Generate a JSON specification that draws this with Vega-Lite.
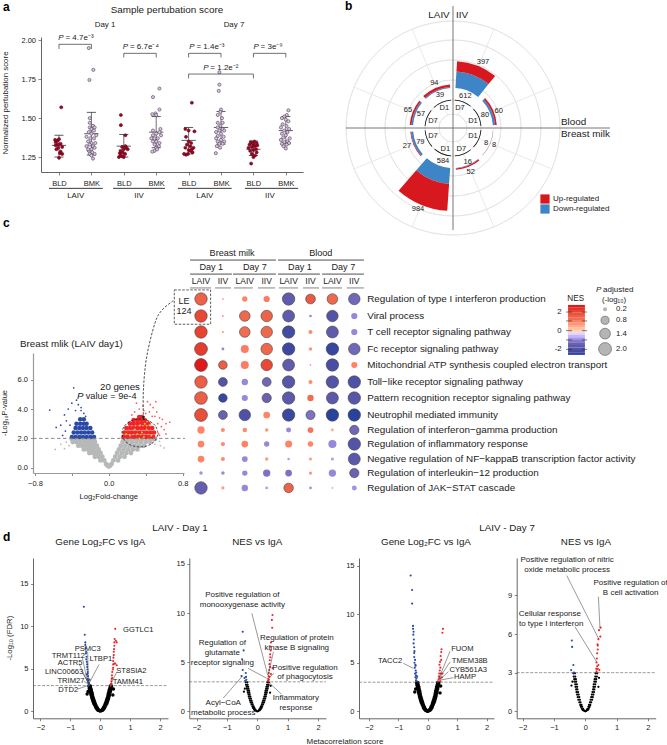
{"$schema":"https://vega.github.io/schema/vega-lite/v6.json","width":667,"height":745,"padding":0,"autosize":"none","background":"white",
"config":{"view":{"stroke":null},"text":{"font":"Liberation Sans","fontSize":7.5,"color":"#222","baseline":"middle"},"axis":{"grid":false,"title":null,"domainColor":"#555","tickColor":"#555","domainWidth":0.9,"tickWidth":0.7,"tickSize":2.5,"labelFont":"Liberation Sans","labelFontSize":7.5,"labelColor":"#222","labelPadding":2.5,"labelOverlap":false,"labelFlush":false}},
"datasets":{
"u":[{"x":0,"y":0},{"x":-0.03,"y":0.03},{"x":-0.05,"y":0.1},{"x":-0.08,"y":0.1},{"x":-0.07,"y":0.2},{"x":-0.11,"y":0.2},{"x":-0.1,"y":0.35},{"x":-0.14,"y":0.35},{"x":-0.12,"y":0.5},{"x":-0.16,"y":0.5},{"x":-0.15,"y":0.7},{"x":-0.19,"y":0.7},{"x":-0.17,"y":0.9},{"x":-0.22,"y":0.9},{"x":-0.19,"y":1.1},{"x":-0.24,"y":1.1},{"x":-0.21,"y":1.3},{"x":-0.26,"y":1.3},{"x":-0.23,"y":1.5},{"x":-0.28,"y":1.5},{"x":-0.25,"y":1.7},{"x":-0.29,"y":1.7},{"x":-0.26,"y":1.9},{"x":-0.31,"y":1.9},{"x":-0.27,"y":2.1},{"x":-0.32,"y":2.1},{"x":-0.29,"y":2.3},{"x":-0.34,"y":2.3},{"x":-0.3,"y":2.5},{"x":-0.35,"y":2.5},{"x":-0.32,"y":2.7},{"x":-0.37,"y":2.7},{"x":-0.33,"y":2.95},{"x":-0.38,"y":2.95},{"x":0.03,"y":0.03},{"x":0.05,"y":0.1},{"x":0.08,"y":0.1},{"x":0.07,"y":0.2},{"x":0.11,"y":0.2},{"x":0.1,"y":0.35},{"x":0.14,"y":0.35},{"x":0.12,"y":0.5},{"x":0.16,"y":0.5},{"x":0.15,"y":0.7},{"x":0.19,"y":0.7},{"x":0.17,"y":0.9},{"x":0.22,"y":0.9},{"x":0.19,"y":1.1},{"x":0.24,"y":1.1},{"x":0.21,"y":1.3},{"x":0.26,"y":1.3},{"x":0.23,"y":1.5},{"x":0.28,"y":1.5},{"x":0.25,"y":1.7},{"x":0.29,"y":1.7},{"x":0.26,"y":1.9},{"x":0.31,"y":1.9},{"x":0.27,"y":2.1},{"x":0.32,"y":2.1},{"x":0.29,"y":2.3},{"x":0.34,"y":2.3},{"x":0.3,"y":2.5},{"x":0.35,"y":2.5},{"x":0.32,"y":2.7},{"x":0.37,"y":2.7},{"x":0.33,"y":2.95},{"x":0.38,"y":2.95},{"x":0.42,"y":1.9},{"x":-0.41,"y":2.3},{"x":0.44,"y":2.6},{"x":-0.44,"y":2}]
},
"layer":[
{"encoding":{"x":{"field":"x","type":"quantitative","scale":{"type":"linear","domain":[0.445,8.53],"range":[41,303]},"axis":{"orient":"bottom","offset":-573,"values":[1,2,3,4,5,6,7,8],"labelExpr":"datum.value%2==1?'BLD':'BMK'","labelFontSize":7.5,"labelPadding":4,"tickSize":3}},"y":{"field":"y","type":"quantitative","scale":{"type":"linear","domain":[1.154,2.021],"range":[172,37]},"axis":{"orient":"left","offset":-41,"values":[1.25,1.5,1.75,2],"format":".2f","tickSize":3}}},
"layer":[
{"data":{"values":[{"x":1,"y":1.25,"y2":1.39},{"x":2,"y":1.263,"y2":1.537},{"x":3,"y":1.25,"y2":1.395},{"x":4,"y":1.31,"y2":1.51},{"x":5,"y":1.27,"y2":1.44},{"x":6,"y":1.333,"y2":1.543},{"x":7,"y":1.26,"y2":1.353},{"x":8,"y":1.338,"y2":1.51}]},"mark":{"type":"rule","color":"#333","strokeWidth":0.7},"encoding":{"y2":{"field":"y2"}}},
{"data":{"values":[{"x":0.78,"x2":1.22,"y":1.325},{"x":0.86,"x2":1.14,"y":1.39},{"x":0.86,"x2":1.14,"y":1.25},{"x":1.78,"x2":2.22,"y":1.4},{"x":1.86,"x2":2.14,"y":1.537},{"x":1.86,"x2":2.14,"y":1.263},{"x":2.78,"x2":3.22,"y":1.32},{"x":2.86,"x2":3.14,"y":1.395},{"x":2.86,"x2":3.14,"y":1.25},{"x":3.78,"x2":4.22,"y":1.41},{"x":3.86,"x2":4.14,"y":1.51},{"x":3.86,"x2":4.14,"y":1.31},{"x":4.78,"x2":5.22,"y":1.357},{"x":4.86,"x2":5.14,"y":1.44},{"x":4.86,"x2":5.14,"y":1.27},{"x":5.78,"x2":6.22,"y":1.44},{"x":5.86,"x2":6.14,"y":1.543},{"x":5.86,"x2":6.14,"y":1.333},{"x":6.78,"x2":7.22,"y":1.3},{"x":6.86,"x2":7.14,"y":1.353},{"x":6.86,"x2":7.14,"y":1.26},{"x":7.78,"x2":8.22,"y":1.42},{"x":7.86,"x2":8.14,"y":1.51},{"x":7.86,"x2":8.14,"y":1.338}]},"mark":{"type":"rule","color":"#333","strokeWidth":0.8},"encoding":{"x2":{"field":"x2"}}},
{"data":{"values":[{"x":1,"y":1.245},{"x":1.03,"y":1.275},{"x":1.1,"y":1.27},{"x":1.05,"y":1.285},{"x":0.92,"y":1.3},{"x":0.98,"y":1.31},{"x":1.1,"y":1.315},{"x":0.9,"y":1.325},{"x":0.97,"y":1.33},{"x":1.05,"y":1.335},{"x":0.9,"y":1.345},{"x":0.95,"y":1.355},{"x":1,"y":1.365},{"x":1.07,"y":1.57},{"x":0.88,"y":1.36},{"x":2.91,"y":1.52},{"x":2.91,"y":1.455},{"x":3.05,"y":1.39},{"x":2.85,"y":1.25},{"x":2.9,"y":1.26},{"x":2.95,"y":1.255},{"x":3,"y":1.25},{"x":2.88,"y":1.275},{"x":2.96,"y":1.28},{"x":3.04,"y":1.27},{"x":3.12,"y":1.3},{"x":2.9,"y":1.29},{"x":3,"y":1.3},{"x":3.08,"y":1.31},{"x":2.95,"y":1.315},{"x":3.05,"y":1.32},{"x":5.1,"y":1.599},{"x":5,"y":1.42},{"x":4.9,"y":1.43},{"x":5.18,"y":1.415},{"x":4.92,"y":1.38},{"x":5,"y":1.35},{"x":5.08,"y":1.34},{"x":4.95,"y":1.33},{"x":5.05,"y":1.32},{"x":4.9,"y":1.31},{"x":5.1,"y":1.3},{"x":5,"y":1.295},{"x":5.12,"y":1.28},{"x":4.98,"y":1.27},{"x":4.92,"y":1.265},{"x":5.05,"y":1.29},{"x":5.15,"y":1.31},{"x":4.86,"y":1.27},{"x":6.93,"y":1.208},{"x":7,"y":1.25},{"x":7.05,"y":1.26},{"x":6.95,"y":1.27},{"x":7.1,"y":1.28},{"x":6.9,"y":1.29},{"x":7,"y":1.295},{"x":7.08,"y":1.3},{"x":6.85,"y":1.31},{"x":6.95,"y":1.315},{"x":7.05,"y":1.32},{"x":7.12,"y":1.325},{"x":6.88,"y":1.33},{"x":7,"y":1.33},{"x":7.1,"y":1.34},{"x":6.92,"y":1.345},{"x":7.03,"y":1.35},{"x":6.98,"y":1.34}]},"mark":{"type":"point","filled":true,"fill":"#a8001e","stroke":"#4a1020","strokeWidth":0.5,"size":10,"opacity":1}},
{"data":{"values":[{"x":1.92,"y":1.95},{"x":2.06,"y":1.81},{"x":1.94,"y":1.745},{"x":1.95,"y":1.5},{"x":1.95,"y":1.47},{"x":2.05,"y":1.45},{"x":1.95,"y":1.44},{"x":2.1,"y":1.44},{"x":2,"y":1.43},{"x":2.08,"y":1.42},{"x":1.92,"y":1.41},{"x":2,"y":1.4},{"x":2.15,"y":1.39},{"x":1.85,"y":1.38},{"x":1.97,"y":1.37},{"x":2.08,"y":1.37},{"x":1.9,"y":1.35},{"x":2,"y":1.34},{"x":2.12,"y":1.34},{"x":1.95,"y":1.33},{"x":2.05,"y":1.32},{"x":1.85,"y":1.32},{"x":2,"y":1.3},{"x":1.92,"y":1.29},{"x":2.1,"y":1.31},{"x":2.03,"y":1.28},{"x":1.95,"y":1.27},{"x":2.1,"y":1.27},{"x":2,"y":1.26},{"x":2.05,"y":1.24},{"x":1.9,"y":1.3},{"x":4.1,"y":1.69},{"x":3.9,"y":1.635},{"x":4.1,"y":1.555},{"x":3.98,"y":1.53},{"x":3.88,"y":1.525},{"x":4,"y":1.52},{"x":3.9,"y":1.42},{"x":4.13,"y":1.43},{"x":4.1,"y":1.41},{"x":4,"y":1.4},{"x":3.9,"y":1.39},{"x":3.85,"y":1.37},{"x":3.95,"y":1.37},{"x":4.05,"y":1.37},{"x":4.15,"y":1.39},{"x":3.9,"y":1.35},{"x":4,"y":1.35},{"x":4.1,"y":1.34},{"x":3.95,"y":1.33},{"x":4.08,"y":1.32},{"x":4,"y":1.31},{"x":3.95,"y":1.29},{"x":3.88,"y":1.285},{"x":4.03,"y":1.3},{"x":5.95,"y":1.795},{"x":5.95,"y":1.715},{"x":5.93,"y":1.675},{"x":6,"y":1.555},{"x":5.98,"y":1.54},{"x":5.9,"y":1.52},{"x":6.03,"y":1.5},{"x":5.9,"y":1.47},{"x":6.05,"y":1.47},{"x":5.98,"y":1.45},{"x":5.9,"y":1.44},{"x":6.05,"y":1.43},{"x":5.95,"y":1.42},{"x":6.1,"y":1.42},{"x":5.85,"y":1.41},{"x":6,"y":1.4},{"x":5.9,"y":1.385},{"x":6.08,"y":1.38},{"x":5.85,"y":1.37},{"x":6,"y":1.36},{"x":6.1,"y":1.35},{"x":5.9,"y":1.35},{"x":5.95,"y":1.335},{"x":6.05,"y":1.335},{"x":5.87,"y":1.32},{"x":5.97,"y":1.31},{"x":5.84,"y":1.275},{"x":8.08,"y":1.55},{"x":8.03,"y":1.52},{"x":7.95,"y":1.51},{"x":7.88,"y":1.5},{"x":8,"y":1.49},{"x":8.08,"y":1.48},{"x":7.9,"y":1.46},{"x":8.02,"y":1.45},{"x":7.85,"y":1.44},{"x":8.1,"y":1.43},{"x":7.95,"y":1.42},{"x":8.05,"y":1.41},{"x":7.88,"y":1.4},{"x":8,"y":1.39},{"x":7.92,"y":1.375},{"x":8.12,"y":1.37},{"x":7.85,"y":1.36},{"x":8.05,"y":1.35},{"x":7.95,"y":1.345},{"x":7.88,"y":1.335},{"x":8.03,"y":1.33},{"x":8.1,"y":1.34},{"x":7.93,"y":1.32},{"x":8,"y":1.305}]},"mark":{"type":"point","filled":true,"fill":"#d9c7df","stroke":"#4d3a58","strokeWidth":0.6,"size":10,"opacity":1}},
{"data":{"values":[{"b":1,"i":1,"x":1,"y":1.944},{"b":1,"i":2,"x":1,"y":1.974},{"b":1,"i":3,"x":2,"y":1.974},{"b":1,"i":4,"x":2,"y":1.944},{"b":2,"i":1,"x":3,"y":1.89},{"b":2,"i":2,"x":3,"y":1.916},{"b":2,"i":3,"x":4,"y":1.916},{"b":2,"i":4,"x":4,"y":1.89},{"b":3,"i":1,"x":5,"y":1.89},{"b":3,"i":2,"x":5,"y":1.916},{"b":3,"i":3,"x":6,"y":1.916},{"b":3,"i":4,"x":6,"y":1.89},{"b":4,"i":1,"x":7,"y":1.89},{"b":4,"i":2,"x":7,"y":1.916},{"b":4,"i":3,"x":8,"y":1.916},{"b":4,"i":4,"x":8,"y":1.89},{"b":5,"i":1,"x":5,"y":1.755},{"b":5,"i":2,"x":5,"y":1.783},{"b":5,"i":3,"x":7,"y":1.783},{"b":5,"i":4,"x":7,"y":1.755}]},"mark":{"type":"line","color":"#333","strokeWidth":0.7},"encoding":{"detail":{"field":"b"},"order":{"field":"i"}}},
{"data":{"values":[{"x":0.69,"x2":2.35,"y":1.049},{"x":2.67,"x2":4.27,"y":1.049},{"x":4.67,"x2":6.33,"y":1.049},{"x":6.74,"x2":8.38,"y":1.049}]},"mark":{"type":"rule","color":"#222","strokeWidth":0.9},"encoding":{"x2":{"field":"x2"}}},
{"data":{"values":[{"x":1.515,"y":1,"t":"LAIV"},{"x":3.47,"y":1,"t":"IIV"},{"x":5.5,"y":1,"t":"LAIV"},{"x":7.51,"y":1,"t":"IIV"},{"x":2.42,"y":2.098,"t":"Day 1"},{"x":6.4,"y":2.098,"t":"Day 7"}]},"mark":{"type":"text","align":"center","fontSize":7.9},"encoding":{"text":{"field":"t","type":"nominal"}}},
{"data":{"values":[{"x":4.33,"y":2.194,"t":"Sample pertubation score"}]},"mark":{"type":"text","align":"center","fontSize":9.9},"encoding":{"text":{"field":"t","type":"nominal"}}},
{"data":{"values":[{"x":-0.636,"y":1.597,"t":"Normalized pertubation score"}]},"mark":{"type":"text","align":"center","angle":270,"fontSize":7.9},"encoding":{"text":{"field":"t","type":"nominal"}}},
{"data":{"values":[{"x":-0.73,"y":2.213,"t":"a"}]},"mark":{"type":"text","align":"left","fontSize":12,"fontWeight":"bold","color":"#000"},"encoding":{"text":{"field":"t","type":"nominal"}}},
{"data":{"values":[{"x":0.98,"y":2.012,"t":"P"},{"x":2.97,"y":1.959,"t":"P"},{"x":5.02,"y":1.959,"t":"P"},{"x":7,"y":1.959,"t":"P"},{"x":5.45,"y":1.824,"t":"P"}]},"mark":{"type":"text","align":"left","fontStyle":"italic","fontSize":8},"encoding":{"text":{"field":"t","type":"nominal"}}},
{"data":{"values":[{"x":1.2,"y":2.012,"t":"= 4.7e⁻³"},{"x":3.19,"y":1.959,"t":"= 6.7e⁻⁴"},{"x":5.24,"y":1.959,"t":"= 1.4e⁻³"},{"x":7.22,"y":1.959,"t":"= 3e⁻⁹"},{"x":5.67,"y":1.824,"t":"= 1.2e⁻²"}]},"mark":{"type":"text","align":"left","fontSize":8},"encoding":{"text":{"field":"t","type":"nominal"}}}
]},

{"encoding":{"x":{"field":"x","type":"quantitative","scale":{"type":"linear","domain":[-107,107],"range":[346,560]},"axis":null},"y":{"field":"y","type":"quantitative","scale":{"type":"linear","domain":[-107,107],"range":[235,21]},"axis":null}},
"layer":[
{"data":{"values":[{"x":0,"y":0,"t1":0,"t2":360,"r1":14,"r2":14},{"x":0,"y":0,"t1":0,"t2":360,"r1":28,"r2":28},{"x":0,"y":0,"t1":0,"t2":360,"r1":48,"r2":48},{"x":0,"y":0,"t1":0,"t2":360,"r1":68,"r2":68},{"x":0,"y":0,"t1":0,"t2":360,"r1":88,"r2":88},{"x":0,"y":0,"t1":0,"t2":360,"r1":107,"r2":107}]},"mark":{"type":"arc","fill":null,"stroke":"#e3e3e3","strokeWidth":0.8},"encoding":{"theta":{"field":"t1","type":"quantitative","stack":null,"scale":{"type":"linear","domain":[0,360],"range":[0,6.28319]}},"theta2":{"field":"t2"},"radius":{"field":"r1","type":"quantitative","scale":{"type":"linear","domain":[0,107],"range":[0,107]}},"radius2":{"field":"r2"}}},
{"data":{"values":[{"x":5.4,"y":12.9,"x2":40.9,"y2":98.9},{"x":12.9,"y":5.4,"x2":98.9,"y2":40.9},{"x":12.9,"y":-5.4,"x2":98.9,"y2":-40.9},{"x":5.4,"y":-12.9,"x2":40.9,"y2":-98.9},{"x":-5.4,"y":-12.9,"x2":-40.9,"y2":-98.9},{"x":-12.9,"y":-5.4,"x2":-98.9,"y2":-40.9},{"x":-12.9,"y":5.4,"x2":-98.9,"y2":40.9},{"x":-5.4,"y":12.9,"x2":-40.9,"y2":98.9}]},"mark":{"type":"rule","color":"#e3e3e3","strokeWidth":0.8},"encoding":{"x2":{"field":"x2"},"y2":{"field":"y2"}}},
{"data":{"values":[{"x":0,"y":0,"t1":3.5,"t2":39,"r1":40,"r2":56.5,"reg":"Down-regulated"},{"x":0,"y":0,"t1":3.5,"t2":39,"r1":56.5,"r2":67,"reg":"Up-regulated"},{"x":0,"y":0,"t1":47,"t2":86,"r1":40,"r2":42.2,"reg":"Down-regulated"},{"x":0,"y":0,"t1":47,"t2":86,"r1":42.2,"r2":43.9,"reg":"Up-regulated"},{"x":0,"y":0,"t1":94,"t2":133,"r1":40,"r2":40.2,"reg":"Down-regulated"},{"x":0,"y":0,"t1":94,"t2":133,"r1":40.2,"r2":40.4,"reg":"Up-regulated"},{"x":0,"y":0,"t1":141,"t2":176,"r1":40,"r2":40.5,"reg":"Down-regulated"},{"x":0,"y":0,"t1":141,"t2":176,"r1":40.5,"r2":41.9,"reg":"Up-regulated"},{"x":0,"y":0,"t1":184,"t2":221,"r1":40,"r2":56,"reg":"Down-regulated"},{"x":0,"y":0,"t1":184,"t2":221,"r1":56,"r2":83,"reg":"Up-regulated"},{"x":0,"y":0,"t1":229,"t2":265,"r1":40,"r2":42.2,"reg":"Down-regulated"},{"x":0,"y":0,"t1":229,"t2":265,"r1":42.2,"r2":42.9,"reg":"Up-regulated"},{"x":0,"y":0,"t1":274,"t2":309,"r1":40,"r2":41.6,"reg":"Down-regulated"},{"x":0,"y":0,"t1":274,"t2":309,"r1":41.6,"r2":43.4,"reg":"Up-regulated"},{"x":0,"y":0,"t1":317,"t2":356,"r1":40,"r2":41.1,"reg":"Down-regulated"},{"x":0,"y":0,"t1":317,"t2":356,"r1":41.1,"r2":43.7,"reg":"Up-regulated"}]},"mark":{"type":"arc"},"encoding":{"theta":{"field":"t1","type":"quantitative","stack":null},"theta2":{"field":"t2"},"radius":{"field":"r1","type":"quantitative"},"radius2":{"field":"r2"},"color":{"field":"reg","type":"nominal","scale":{"domain":["Up-regulated","Down-regulated"],"range":["#d7191f","#3d85c6"]},"legend":{"orient":"none","legendX":540,"legendY":194,"title":null,"symbolType":"square","symbolSize":85,"labelFont":"Liberation Sans","labelFontSize":8,"labelColor":"#222","rowPadding":0,"labelOffset":3,"symbolStrokeWidth":0}}}},
{"data":{"values":[{"x":0,"y":0,"t1":3.5,"t2":39,"r1":27.6,"r2":28.4},{"x":0,"y":0,"t1":47,"t2":86,"r1":27.6,"r2":28.4},{"x":0,"y":0,"t1":94,"t2":133,"r1":27.6,"r2":28.4},{"x":0,"y":0,"t1":141,"t2":176,"r1":27.6,"r2":28.4},{"x":0,"y":0,"t1":184,"t2":221,"r1":27.6,"r2":28.4},{"x":0,"y":0,"t1":229,"t2":265,"r1":27.6,"r2":28.4},{"x":0,"y":0,"t1":274,"t2":309,"r1":27.6,"r2":28.4},{"x":0,"y":0,"t1":317,"t2":356,"r1":27.6,"r2":28.4}]},"mark":{"type":"arc","color":"#111"},"encoding":{"theta":{"field":"t1","type":"quantitative","stack":null},"theta2":{"field":"t2"},"radius":{"field":"r1","type":"quantitative"},"radius2":{"field":"r2"}}},
{"data":{"values":[{"x":-107,"y":0,"x2":157,"y2":0},{"x":0,"y":122,"x2":0,"y2":-102}]},"mark":{"type":"rule","color":"#777","strokeWidth":1},"encoding":{"x2":{"field":"x2"},"y2":{"field":"y2"}}},
{"data":{"values":[{"x":30,"y":66,"t":"397"},{"x":12.3,"y":32,"t":"612"},{"x":32,"y":13,"t":"80"},{"x":45.7,"y":17,"t":"60"},{"x":33,"y":-15,"t":"8"},{"x":41,"y":-17,"t":"8"},{"x":14.7,"y":-33.7,"t":"16"},{"x":17.7,"y":-44,"t":"52"},{"x":-10,"y":-33,"t":"584"},{"x":-35,"y":-81,"t":"984"},{"x":-32.7,"y":-13.7,"t":"79"},{"x":-46,"y":-18,"t":"27"},{"x":-32,"y":14,"t":"57"},{"x":-45,"y":18,"t":"65"},{"x":-13,"y":32.7,"t":"39"},{"x":-18.7,"y":44.7,"t":"94"},{"x":7,"y":19.7,"t":"D7"},{"x":20,"y":7.3,"t":"D1"},{"x":20,"y":-8,"t":"D1"},{"x":8.3,"y":-21,"t":"D7"},{"x":-7.7,"y":-21,"t":"D1"},{"x":-20,"y":-8,"t":"D7"},{"x":-20,"y":7.3,"t":"D7"},{"x":-8.7,"y":19.7,"t":"D1"}]},"mark":{"type":"text","align":"center","fontSize":7.5},"encoding":{"text":{"field":"t","type":"nominal"}}},
{"data":{"values":[{"x":-14,"y":113,"t":"LAIV"},{"x":9,"y":113,"t":"IIV"}]},"mark":{"type":"text","align":"center","fontSize":9.9},"encoding":{"text":{"field":"t","type":"nominal"}}},
{"data":{"values":[{"x":108,"y":6,"t":"Blood"},{"x":108,"y":-6,"t":"Breast milk"}]},"mark":{"type":"text","align":"left","fontSize":9.9},"encoding":{"text":{"field":"t","type":"nominal"}}},
{"data":{"values":[{"x":-108,"y":122,"t":"b"}]},"mark":{"type":"text","align":"left","fontSize":12,"fontWeight":"bold","color":"#000"},"encoding":{"text":{"field":"t","type":"nominal"}}}
]},

{"encoding":{"x":{"field":"x","type":"quantitative","scale":{"type":"linear","domain":[-0.821,0.815],"range":[33,184]},"axis":{"orient":"bottom","offset":-272,"values":[-0.8,-0.4,0,0.4,0.8],"labelExpr":"abs(datum.value)==0.4?'':format(datum.value,'.1f')","domainColor":"#999","domainWidth":1.2,"tickColor":"#555","labelPadding":4}},"y":{"field":"y","type":"quantitative","scale":{"type":"linear","domain":[-0.36,7.82],"range":[473,353]},"axis":{"orient":"left","offset":-33,"values":[0,2,4,6],"format":".1f","domainColor":"#999","domainWidth":1.2,"tickColor":"#555","labelPadding":3}}},
"layer":[
{"data":{"values":[{"x":0,"y":0.08},{"x":0.015,"y":0.15},{"x":-0.015,"y":0.15},{"x":0.03,"y":0.25},{"x":-0.03,"y":0.25},{"x":-0.05,"y":0.5},{"x":-0.09,"y":0.5},{"x":-0.07,"y":0.75},{"x":-0.11,"y":0.75},{"x":-0.15,"y":0.75},{"x":-0.09,"y":1},{"x":-0.13,"y":1},{"x":-0.17,"y":1},{"x":-0.21,"y":1},{"x":-0.11,"y":1.25},{"x":-0.15,"y":1.25},{"x":-0.19,"y":1.25},{"x":-0.23,"y":1.25},{"x":-0.27,"y":1.25},{"x":-0.13,"y":1.5},{"x":-0.17,"y":1.5},{"x":-0.21,"y":1.5},{"x":-0.25,"y":1.5},{"x":-0.29,"y":1.5},{"x":-0.33,"y":1.5},{"x":-0.15,"y":1.75},{"x":-0.19,"y":1.75},{"x":-0.23,"y":1.75},{"x":-0.27,"y":1.75},{"x":-0.31,"y":1.75},{"x":-0.35,"y":1.75},{"x":-0.39,"y":1.75},{"x":-0.16,"y":1.95},{"x":-0.2,"y":1.95},{"x":-0.24,"y":1.95},{"x":-0.28,"y":1.95},{"x":-0.32,"y":1.95},{"x":-0.36,"y":1.95},{"x":-0.4,"y":1.95},{"x":0.05,"y":0.5},{"x":0.1,"y":0.5},{"x":0.07,"y":0.75},{"x":0.12,"y":0.75},{"x":0.17,"y":0.75},{"x":0.09,"y":1},{"x":0.14,"y":1},{"x":0.19,"y":1},{"x":0.24,"y":1},{"x":0.11,"y":1.25},{"x":0.16,"y":1.25},{"x":0.21,"y":1.25},{"x":0.26,"y":1.25},{"x":0.31,"y":1.25},{"x":0.13,"y":1.5},{"x":0.18,"y":1.5},{"x":0.23,"y":1.5},{"x":0.28,"y":1.5},{"x":0.33,"y":1.5},{"x":0.38,"y":1.5},{"x":0.15,"y":1.75},{"x":0.2,"y":1.75},{"x":0.25,"y":1.75},{"x":0.3,"y":1.75},{"x":0.35,"y":1.75},{"x":0.4,"y":1.75},{"x":0.45,"y":1.75},{"x":0.16,"y":1.95},{"x":0.21,"y":1.95},{"x":0.26,"y":1.95},{"x":0.31,"y":1.95},{"x":0.36,"y":1.95},{"x":0.41,"y":1.95},{"x":0.46,"y":1.95},{"x":0.5,"y":1.95}]},"mark":{"type":"circle","color":"#b7b9b9","size":24,"opacity":1}},
{"data":{"values":[{"x":-0.58,"y":1.25},{"x":-0.52,"y":1.6},{"x":-0.46,"y":1.75},{"x":0.56,"y":1.5},{"x":0.6,"y":1.35},{"x":0.5,"y":1.6},{"x":0.55,"y":1.8},{"x":-0.48,"y":1.3},{"x":-0.43,"y":1.5}]},"mark":{"type":"circle","color":"#b7b9b9","size":3,"opacity":1}},
{"data":{"values":[{"x":-0.16,"y":2.1},{"x":-0.2,"y":2.1},{"x":-0.24,"y":2.1},{"x":-0.28,"y":2.1},{"x":-0.32,"y":2.1},{"x":-0.36,"y":2.1},{"x":-0.4,"y":2.1},{"x":-0.18,"y":2.4},{"x":-0.22,"y":2.4},{"x":-0.26,"y":2.4},{"x":-0.3,"y":2.4},{"x":-0.34,"y":2.4},{"x":-0.38,"y":2.4},{"x":-0.2,"y":2.7},{"x":-0.24,"y":2.7},{"x":-0.28,"y":2.7},{"x":-0.32,"y":2.7},{"x":-0.36,"y":2.7},{"x":-0.24,"y":3},{"x":-0.27,"y":3},{"x":-0.31,"y":3},{"x":-0.35,"y":3},{"x":-0.27,"y":3.3},{"x":-0.31,"y":3.3}]},"mark":{"type":"circle","color":"#2b4aa5","size":20,"opacity":1}},
{"data":{"values":[{"x":-0.64,"y":3.93},{"x":-0.38,"y":5.45},{"x":-0.48,"y":3.6},{"x":-0.44,"y":4},{"x":-0.4,"y":4.4},{"x":-0.35,"y":4.6},{"x":-0.33,"y":4.3},{"x":-0.3,"y":3.9},{"x":-0.27,"y":3.7},{"x":-0.36,"y":3.9},{"x":-0.52,"y":2.9},{"x":-0.57,"y":2.75},{"x":-0.46,"y":3.2},{"x":-0.42,"y":2.9},{"x":-0.5,"y":2.2},{"x":-0.47,"y":2.5},{"x":-0.3,"y":4.1},{"x":-0.25,"y":3.5}]},"mark":{"type":"circle","color":"#2b4aa5","size":3,"opacity":1}},
{"data":{"values":[{"x":0.62,"y":3},{"x":0.55,"y":3.4},{"x":0.6,"y":2.6},{"x":0.66,"y":3.1},{"x":0.52,"y":3.8},{"x":0.48,"y":4.1},{"x":0.45,"y":4.3},{"x":0.42,"y":4.5},{"x":0.37,"y":4.2},{"x":0.33,"y":4},{"x":0.28,"y":3.8},{"x":0.25,"y":3.6},{"x":0.53,"y":3},{"x":0.57,"y":2.8},{"x":0.54,"y":2.3},{"x":0.55,"y":2.2},{"x":0.62,"y":2.3},{"x":0.51,"y":4.5},{"x":0.44,"y":3.8},{"x":0.38,"y":3.9},{"x":0.5,"y":3.5},{"x":0.58,"y":3.3},{"x":0.47,"y":3.5},{"x":0.3,"y":4.4},{"x":0.4,"y":3.7}]},"mark":{"type":"circle","color":"#f0605f","size":3,"opacity":1}},
{"data":{"values":[{"x":0.16,"y":2.1},{"x":0.2,"y":2.1},{"x":0.24,"y":2.1},{"x":0.28,"y":2.1},{"x":0.32,"y":2.1},{"x":0.36,"y":2.1},{"x":0.4,"y":2.1},{"x":0.44,"y":2.1},{"x":0.48,"y":2.1},{"x":0.17,"y":2.4},{"x":0.21,"y":2.4},{"x":0.25,"y":2.4},{"x":0.29,"y":2.4},{"x":0.33,"y":2.4},{"x":0.37,"y":2.4},{"x":0.41,"y":2.4},{"x":0.45,"y":2.4},{"x":0.49,"y":2.4},{"x":0.19,"y":2.7},{"x":0.23,"y":2.7},{"x":0.27,"y":2.7},{"x":0.31,"y":2.7},{"x":0.35,"y":2.7},{"x":0.39,"y":2.7},{"x":0.43,"y":2.7},{"x":0.47,"y":2.7},{"x":0.23,"y":3},{"x":0.27,"y":3},{"x":0.31,"y":3},{"x":0.35,"y":3},{"x":0.39,"y":3},{"x":0.43,"y":3},{"x":0.27,"y":3.25},{"x":0.31,"y":3.25},{"x":0.35,"y":3.25},{"x":0.39,"y":3.25},{"x":0.33,"y":3.45},{"x":0.36,"y":3.45}]},"mark":{"type":"circle","color":"#ef2529","size":22,"opacity":1}},
{"data":{"values":[{"x":0.19,"y":2.3},{"x":0.23,"y":2.2},{"x":0.28,"y":2.6},{"x":0.31,"y":2.3},{"x":0.34,"y":2.9},{"x":0.36,"y":2.4},{"x":0.38,"y":2.1},{"x":0.41,"y":2.6},{"x":0.44,"y":2.9},{"x":0.46,"y":2.2},{"x":0.39,"y":3},{"x":0.33,"y":2}]},"mark":{"type":"circle","color":"#d6cc12","size":4,"opacity":1}},
{"data":{"values":[{"x":-0.821,"x2":0.825,"y":2}]},"mark":{"type":"rule","color":"#888","strokeWidth":1,"strokeDash":[3.5,2.5]},"encoding":{"x2":{"field":"x2"}}},
{"data":{"values":[{"i":1,"x":0.533,"y":2.365},{"i":2,"x":0.507,"y":2.84},{"i":3,"x":0.436,"y":3.19},{"i":4,"x":0.338,"y":3.315},{"i":5,"x":0.24,"y":3.19},{"i":6,"x":0.169,"y":2.84},{"i":7,"x":0.143,"y":2.365},{"i":8,"x":0.169,"y":1.89},{"i":9,"x":0.24,"y":1.54},{"i":10,"x":0.338,"y":1.415},{"i":11,"x":0.436,"y":1.54},{"i":12,"x":0.507,"y":1.89},{"i":13,"x":0.533,"y":2.365}]},"mark":{"type":"line","color":"#222","strokeWidth":0.8,"strokeDash":[2.5,1.5],"interpolate":"cardinal"},"encoding":{"order":{"field":"i"}}},
{"data":{"values":[{"x":-0.962,"y":8.43,"t":"Breast mlik (LAIV day1)"}]},"mark":{"type":"text","align":"left","fontSize":9.8},"encoding":{"text":{"field":"t","type":"nominal"}}},
{"data":{"values":[{"x":0.121,"y":5.5,"t":"20 genes"}]},"mark":{"type":"text","align":"center","fontSize":9.7},"encoding":{"text":{"field":"t","type":"nominal"}}},
{"data":{"values":[{"x":-0.345,"y":4.89,"t":"P"}]},"mark":{"type":"text","align":"left","fontSize":9.7,"fontStyle":"italic"},"encoding":{"text":{"field":"t","type":"nominal"}}},
{"data":{"values":[{"x":-0.25,"y":4.89,"t":"value = 9e-4"}]},"mark":{"type":"text","align":"left","fontSize":9.2},"encoding":{"text":{"field":"t","type":"nominal"}}},
{"data":{"values":[{"x":-1.125,"y":3.73,"t":"-Log₁₀P-value"}]},"mark":{"type":"text","align":"center","angle":270,"fontSize":7.5},"encoding":{"text":{"field":"t","type":"nominal"}}},
{"data":{"values":[{"x":0,"y":-2,"t":"Log₂Fold-change"}]},"mark":{"type":"text","align":"center","fontSize":7.7},"encoding":{"text":{"field":"t","type":"nominal"}}},
{"data":{"values":[{"x":-1.146,"y":16.68,"t":"c"}]},"mark":{"type":"text","align":"left","fontSize":12,"fontWeight":"bold","color":"#000"},"encoding":{"text":{"field":"t","type":"nominal"}}}
]},

{"encoding":{"x":{"field":"x","type":"quantitative","scale":{"type":"linear","domain":[0,9],"range":[179.1,376.2]},"axis":null},"y":{"field":"y","type":"quantitative","scale":{"type":"linear","domain":[-3,13],"range":[233,497]},"axis":null}},
"layer":[
{"data":{"values":[{"x":-0.22,"x2":1.44,"y":0.45,"y2":2.53}]},"mark":{"type":"rect","fill":null,"stroke":"#333","strokeWidth":0.8,"strokeDash":[2.5,1.5]},"encoding":{"x2":{"field":"x2"},"y2":{"field":"y2"}}},
{"data":{"values":[{"i":1,"x":-0.26,"y":1.1},{"i":2,"x":-0.78,"y":1.67},{"i":3,"x":-1.1,"y":2.45},{"i":4,"x":-1.48,"y":4.5},{"i":5,"x":-1.63,"y":6.52},{"i":6,"x":-1.63,"y":8.21}]},"mark":{"type":"line","color":"#222","strokeWidth":0.8,"strokeDash":[2.5,1.5],"interpolate":"cardinal"},"encoding":{"order":{"field":"i"}}},
{"data":{"values":[{"x":-1.63,"y":8.21}]},"mark":{"type":"point","shape":"triangle-down","filled":true,"color":"#222","size":14,"opacity":1}},
{"data":{"values":[
{"x":1,"y":1,"nes":1.5,"p":1.87},{"x":2,"y":1,"nes":0.6,"p":0.04},{"x":3,"y":1,"nes":1,"p":0.34},{"x":4,"y":1,"nes":1.1,"p":0.47},{"x":5,"y":1,"nes":-1.5,"p":1.87},{"x":6,"y":1,"nes":1.7,"p":1.15},{"x":7,"y":1,"nes":1.4,"p":1.37},{"x":8,"y":1,"nes":-1.2,"p":1.61},
{"x":1,"y":2.03,"nes":2,"p":1.87},{"x":2,"y":2.03,"nes":0.8,"p":0.04},{"x":3,"y":2.03,"nes":1.4,"p":1.37},{"x":4,"y":2.03,"nes":1.5,"p":1.61},{"x":5,"y":2.03,"nes":-1.5,"p":1.73},{"x":6,"y":2.03,"nes":-0.9,"p":0.09},{"x":7,"y":2.03,"nes":-1.8,"p":1.61},{"x":8,"y":2.03,"nes":-0.9,"p":0.47},
{"x":1,"y":3,"nes":2.1,"p":1.87},{"x":2,"y":3,"nes":0.7,"p":0.06},{"x":3,"y":3,"nes":1.3,"p":1.37},{"x":4,"y":3,"nes":1.4,"p":1.61},{"x":5,"y":3,"nes":-2.1,"p":1.87},{"x":6,"y":3,"nes":0.9,"p":0.2},{"x":7,"y":3,"nes":-1.5,"p":1.73},{"x":8,"y":3,"nes":-0.9,"p":0.47},
{"x":1,"y":4.03,"nes":2.2,"p":2},{"x":2,"y":4.03,"nes":-0.9,"p":0.1},{"x":3,"y":4.03,"nes":1.1,"p":0.77},{"x":4,"y":4.03,"nes":1.4,"p":1.61},{"x":5,"y":4.03,"nes":-2.2,"p":1.87},{"x":6,"y":4.03,"nes":0.8,"p":0.15},{"x":7,"y":4.03,"nes":-2.3,"p":1.87},{"x":8,"y":4.03,"nes":-1.2,"p":1.61},
{"x":1,"y":5,"nes":2.6,"p":2},{"x":2,"y":5,"nes":1.6,"p":0.9},{"x":3,"y":5,"nes":1.1,"p":0.77},{"x":4,"y":5,"nes":2,"p":1.6},{"x":5,"y":5,"nes":-1.5,"p":1.73},{"x":6,"y":5,"nes":0.6,"p":0.04},{"x":7,"y":5,"nes":-2,"p":1.87},{"x":8,"y":5,"nes":1,"p":0.45},
{"x":1,"y":6.03,"nes":1.6,"p":1.87},{"x":2,"y":6.03,"nes":-1.8,"p":0.95},{"x":3,"y":6.03,"nes":-0.9,"p":0.5},{"x":4,"y":6.03,"nes":-1.2,"p":0.95},{"x":5,"y":6.03,"nes":-1.7,"p":1.87},{"x":6,"y":6.03,"nes":0.9,"p":0.2},{"x":7,"y":6.03,"nes":-1.8,"p":1.87},{"x":8,"y":6.03,"nes":-1.9,"p":1.87},
{"x":1,"y":7,"nes":1.6,"p":1.95},{"x":2,"y":7,"nes":-2.3,"p":0.9},{"x":3,"y":7,"nes":-0.9,"p":0.45},{"x":4,"y":7,"nes":-1.3,"p":1.05},{"x":5,"y":7,"nes":-1.6,"p":1.87},{"x":6,"y":7,"nes":1.3,"p":0.5},{"x":7,"y":7,"nes":-1.6,"p":1.73},{"x":8,"y":7,"nes":-1.7,"p":1.87},
{"x":1,"y":8.03,"nes":1.9,"p":2},{"x":2,"y":8.03,"nes":-1.3,"p":0.95},{"x":3,"y":8.03,"nes":-1.9,"p":1.6},{"x":4,"y":8.03,"nes":1,"p":0.55},{"x":5,"y":8.03,"nes":-2.2,"p":1.87},{"x":6,"y":8.03,"nes":-1.1,"p":1},{"x":7,"y":8.03,"nes":-2.5,"p":1.87},{"x":8,"y":8.03,"nes":-2.5,"p":1.87},
{"x":1,"y":8.94,"nes":1,"p":0.65},{"x":2,"y":8.94,"nes":0.9,"p":0.2},{"x":3,"y":8.94,"nes":0.9,"p":0.25},{"x":4,"y":8.94,"nes":0.8,"p":0.15},{"x":5,"y":8.94,"nes":-0.9,"p":0.3},{"x":6,"y":8.94,"nes":1.2,"p":0.4},{"x":7,"y":8.94,"nes":0.5,"p":0.1},{"x":8,"y":8.94,"nes":-1.2,"p":1.05},
{"x":1,"y":9.79,"nes":1,"p":0.55},{"x":2,"y":9.79,"nes":0.9,"p":0.22},{"x":3,"y":9.79,"nes":1,"p":0.55},{"x":4,"y":9.79,"nes":-0.9,"p":0.35},{"x":5,"y":9.79,"nes":1,"p":0.6},{"x":6,"y":9.79,"nes":1,"p":0.35},{"x":7,"y":9.79,"nes":-0.9,"p":0.8},{"x":8,"y":9.79,"nes":-1.8,"p":1.87},
{"x":1,"y":10.7,"nes":1,"p":0.55},{"x":2,"y":10.7,"nes":0.9,"p":0.2},{"x":3,"y":10.7,"nes":-0.9,"p":0.4},{"x":4,"y":10.7,"nes":0.7,"p":0.15},{"x":5,"y":10.7,"nes":-0.7,"p":0.08},{"x":6,"y":10.7,"nes":0.7,"p":0.12},{"x":7,"y":10.7,"nes":-0.7,"p":0.12},{"x":8,"y":10.7,"nes":-1.6,"p":1.73},
{"x":1,"y":11.55,"nes":-0.8,"p":0.15},{"x":2,"y":11.55,"nes":-0.9,"p":0.15},{"x":3,"y":11.55,"nes":-0.9,"p":0.35},{"x":4,"y":11.55,"nes":-1.1,"p":0.65},{"x":5,"y":11.55,"nes":-1.1,"p":0.55},{"x":6,"y":11.55,"nes":0.8,"p":0.12},{"x":7,"y":11.55,"nes":-0.9,"p":0.65},{"x":8,"y":11.55,"nes":-1.3,"p":1.05},
{"x":1,"y":12.45,"nes":-1.4,"p":1.87},{"x":2,"y":12.45,"nes":0.7,"p":0.12},{"x":3,"y":12.45,"nes":-0.9,"p":0.5},{"x":4,"y":12.45,"nes":-0.7,"p":0.1},{"x":5,"y":12.45,"nes":1.5,"p":1.1},{"x":6,"y":12.45,"nes":-0.8,"p":0.1},{"x":7,"y":12.45,"nes":-0.5,"p":0.05},{"x":8,"y":12.45,"nes":-0.8,"p":0.3}
]},"mark":{"type":"circle","opacity":1,"strokeWidth":0.6},"encoding":{"color":{"field":"nes","type":"quantitative","scale":{"type":"linear","domain":[-2.6,-1.25,0,1.25,2.6],"range":["#21409a","#6c62b0","#ffffff","#ef6f55","#e01a1c"]},"legend":null},"size":{"field":"p","type":"quantitative","scale":{"type":"linear","domain":[0,2],"range":[0,165]},"legend":null},"stroke":{"condition":{"test":"datum.p>=0.85","value":"#444"},"value":"transparent"}}},
{"data":{"values":[{"x":0.5,"x2":4.42,"y":-1.36},{"x":4.52,"x2":8.44,"y":-1.36},{"x":0.5,"x2":2.41,"y":-0.51},{"x":2.46,"x2":4.42,"y":-0.51},{"x":4.52,"x2":6.43,"y":-0.51},{"x":6.53,"x2":8.44,"y":-0.51}]},"mark":{"type":"rule","color":"#222","strokeWidth":0.8},"encoding":{"x2":{"field":"x2"}}},
{"data":{"values":[{"x":0.5,"x2":1.46,"y":0.33},{"x":1.64,"x2":2.37,"y":0.33},{"x":2.51,"x2":3.37,"y":0.33},{"x":3.6,"x2":4.38,"y":0.33},{"x":4.56,"x2":5.43,"y":0.33},{"x":5.66,"x2":6.39,"y":0.33},{"x":6.53,"x2":7.44,"y":0.33},{"x":7.66,"x2":8.44,"y":0.33}]},"mark":{"type":"rule","color":"#777","strokeWidth":0.9},"encoding":{"x2":{"field":"x2"}}},
{"data":{"values":[{"x":2.42,"y":-1.79,"t":"Breast milk"},{"x":6.47,"y":-1.79,"t":"Blood"},{"x":1.47,"y":-0.94,"t":"Day 1"},{"x":3.46,"y":-0.94,"t":"Day 7"},{"x":5.52,"y":-0.94,"t":"Day 1"},{"x":7.5,"y":-0.94,"t":"Day 7"}]},"mark":{"type":"text","align":"center","fontSize":9.1},"encoding":{"text":{"field":"t","type":"nominal"}}},
{"data":{"values":[{"x":1,"y":-0.09,"t":"LAIV"},{"x":2,"y":-0.09,"t":"IIV"},{"x":3,"y":-0.09,"t":"LAIV"},{"x":4,"y":-0.09,"t":"IIV"},{"x":5,"y":-0.09,"t":"LAIV"},{"x":6,"y":-0.09,"t":"IIV"},{"x":7,"y":-0.09,"t":"LAIV"},{"x":8,"y":-0.09,"t":"IIV"}]},"mark":{"type":"text","align":"center","fontSize":8.5},"encoding":{"text":{"field":"t","type":"nominal"}}},
{"data":{"values":[{"x":0.22,"y":1.1,"t":"LE"},{"x":0.22,"y":1.71,"t":"124"}]},"mark":{"type":"text","align":"center","fontSize":9},"encoding":{"text":{"field":"t","type":"nominal"}}},
{"data":{"values":[{"x":8.59,"y":1,"t":"Regulation of type I interferon production"},{"x":8.59,"y":2.03,"t":"Viral process"},{"x":8.59,"y":3,"t":"T cell receptor signaling pathway"},{"x":8.59,"y":4.03,"t":"Fc receptor signaling pathway"},{"x":8.59,"y":5,"t":"Mitochondrial ATP synthesis coupled electron transport"},{"x":8.59,"y":6.03,"t":"Toll−like receptor signaling pathway"},{"x":8.59,"y":7,"t":"Pattern recognition receptor signaling pathway"},{"x":8.59,"y":8.03,"t":"Neutrophil mediated immunity"},{"x":8.59,"y":8.94,"t":"Regulation of interferon−gamma production"},{"x":8.59,"y":9.79,"t":"Regulation of inflammatory response"},{"x":8.59,"y":10.7,"t":"Negative regulation of NF−kappaB transcription factor activity"},{"x":8.59,"y":11.55,"t":"Regulation of interleukin−12 production"},{"x":8.59,"y":12.45,"t":"Regulation of JAK−STAT cascade"}]},"mark":{"type":"text","align":"left","fontSize":9.9},"encoding":{"text":{"field":"t","type":"nominal"}}},
{"data":{"values":[{"x":17.76,"x2":18.53,"y":1.36,"y2":1.52,"nes":2.6},{"x":17.76,"x2":18.53,"y":1.51,"y2":1.67,"nes":2.34},{"x":17.76,"x2":18.53,"y":1.66,"y2":1.82,"nes":2.08},{"x":17.76,"x2":18.53,"y":1.81,"y2":1.97,"nes":1.82},{"x":17.76,"x2":18.53,"y":1.97,"y2":2.13,"nes":1.56},{"x":17.76,"x2":18.53,"y":2.12,"y2":2.28,"nes":1.3},{"x":17.76,"x2":18.53,"y":2.27,"y2":2.43,"nes":1.04},{"x":17.76,"x2":18.53,"y":2.42,"y2":2.58,"nes":0.78},{"x":17.76,"x2":18.53,"y":2.57,"y2":2.73,"nes":0.52},{"x":17.76,"x2":18.53,"y":2.72,"y2":2.88,"nes":0.26},{"x":17.76,"x2":18.53,"y":2.88,"y2":3.04,"nes":0},{"x":17.76,"x2":18.53,"y":3.03,"y2":3.19,"nes":-0.26},{"x":17.76,"x2":18.53,"y":3.18,"y2":3.34,"nes":-0.52},{"x":17.76,"x2":18.53,"y":3.33,"y2":3.49,"nes":-0.78},{"x":17.76,"x2":18.53,"y":3.48,"y2":3.64,"nes":-1.04},{"x":17.76,"x2":18.53,"y":3.63,"y2":3.79,"nes":-1.3},{"x":17.76,"x2":18.53,"y":3.78,"y2":3.94,"nes":-1.56},{"x":17.76,"x2":18.53,"y":3.94,"y2":4.1,"nes":-1.82},{"x":17.76,"x2":18.53,"y":4.09,"y2":4.25,"nes":-2.08},{"x":17.76,"x2":18.53,"y":4.24,"y2":4.39,"nes":-2.34}]},"mark":{"type":"rect"},"encoding":{"x2":{"field":"x2"},"y2":{"field":"y2"},"color":{"field":"nes","type":"quantitative","legend":null}}},
{"data":{"values":[{"x":17.67,"x2":17.94,"y":1.79},{"x":18.4,"x2":18.63,"y":1.79},{"x":17.67,"x2":17.94,"y":2.33},{"x":18.4,"x2":18.63,"y":2.33},{"x":17.67,"x2":17.94,"y":2.92},{"x":18.4,"x2":18.63,"y":2.92},{"x":17.67,"x2":17.94,"y":3.48},{"x":18.4,"x2":18.63,"y":3.48},{"x":17.67,"x2":17.94,"y":4.05},{"x":18.4,"x2":18.63,"y":4.05}]},"mark":{"type":"rule","color":"#222","strokeWidth":0.6},"encoding":{"x2":{"field":"x2"}}},
{"data":{"values":[{"x":17.47,"y":1.79,"t":"2"},{"x":17.47,"y":2.92,"t":"0"},{"x":17.47,"y":4.05,"t":"-2"}]},"mark":{"type":"text","align":"right","fontSize":7.8},"encoding":{"text":{"field":"t","type":"nominal"}}},
{"data":{"values":[{"x":18.11,"y":1,"t":"NES"}]},"mark":{"type":"text","align":"center","fontSize":8.2},"encoding":{"text":{"field":"t","type":"nominal"}}},
{"data":{"values":[{"x":19.45,"y":1.62,"p":0.2},{"x":19.45,"y":2.29,"p":0.8},{"x":19.45,"y":3.1,"p":1.4},{"x":19.45,"y":4.03,"p":2}]},"mark":{"type":"circle","color":"#b4b6b6","opacity":1,"strokeWidth":0.6},"encoding":{"size":{"field":"p","type":"quantitative","legend":null},"stroke":{"condition":{"test":"datum.p>=0.5","value":"#555"},"value":"transparent"}}},
{"data":{"values":[{"x":19.95,"y":1.62,"t":"0.2"},{"x":19.95,"y":2.29,"t":"0.8"},{"x":19.95,"y":3.1,"t":"1.4"},{"x":19.95,"y":4.03,"t":"2.0"}]},"mark":{"type":"text","align":"left","fontSize":7.8},"encoding":{"text":{"field":"t","type":"nominal"}}},
{"data":{"values":[{"x":19.04,"y":0.45,"t":"P"}]},"mark":{"type":"text","align":"left","fontSize":8,"fontStyle":"italic"},"encoding":{"text":{"field":"t","type":"nominal"}}},
{"data":{"values":[{"x":19.36,"y":0.45,"t":"adjusted"}]},"mark":{"type":"text","align":"left","fontSize":8},"encoding":{"text":{"field":"t","type":"nominal"}}},
{"data":{"values":[{"x":19.86,"y":1.06,"t":"(-log₁₀)"}]},"mark":{"type":"text","align":"center","fontSize":7.8},"encoding":{"text":{"field":"t","type":"nominal"}}}
]},

{"encoding":{"x":{"field":"x","type":"quantitative","scale":{"type":"linear","domain":[-2.25,2.264],"range":[33,168]},"axis":{"orient":"bottom","offset":-26.7,"values":[-2,-1,0,1,2]}},"y":{"field":"y","type":"quantitative","scale":{"type":"linear","domain":[-0.86,18.06],"range":[718.3,558]},"axis":{"orient":"left","offset":-33,"values":[0,5,10,15]}}},
"layer":[
{"data":{"name":"u"},"mark":{"type":"circle","color":"#000","size":12,"opacity":1}},
{"data":{"values":[{"x":-0.55,"y":12.3},{"x":-0.52,"y":9},{"x":-0.5,"y":8.1},{"x":-0.5,"y":7.8},{"x":-0.49,"y":7.4},{"x":-0.47,"y":7},{"x":-0.48,"y":6.8},{"x":-0.46,"y":6.4},{"x":-0.47,"y":6.1},{"x":-0.45,"y":5.8},{"x":-0.44,"y":5.5},{"x":-0.44,"y":5.2},{"x":-0.43,"y":4.9},{"x":-0.42,"y":4.6},{"x":-0.43,"y":4.4},{"x":-0.41,"y":4.1},{"x":-0.42,"y":3.8},{"x":-0.4,"y":3.6},{"x":-0.39,"y":3.4},{"x":-0.37,"y":3.2},{"x":-0.38,"y":3.1},{"x":-0.36,"y":3.7},{"x":-0.4,"y":3},{"x":-0.45,"y":4.3}]},"mark":{"type":"circle","color":"#2b4aa5","size":4.5,"opacity":1}},
{"data":{"values":[{"x":0.5,"y":9.7},{"x":0.48,"y":8.5},{"x":0.52,"y":8.3},{"x":0.47,"y":8.1},{"x":0.55,"y":8.1},{"x":0.47,"y":7.7},{"x":0.46,"y":7.3},{"x":0.45,"y":7},{"x":0.45,"y":6.6},{"x":0.44,"y":6.3},{"x":0.43,"y":5.9},{"x":0.47,"y":5.6},{"x":0.43,"y":5.5},{"x":0.5,"y":5.6},{"x":0.55,"y":5.4},{"x":0.43,"y":5.1},{"x":0.4,"y":4.6},{"x":0.39,"y":4.2},{"x":0.38,"y":3.8},{"x":0.37,"y":3.5},{"x":0.36,"y":3.2},{"x":0.35,"y":3},{"x":0.42,"y":4.9},{"x":0.4,"y":3.9}]},"mark":{"type":"circle","color":"#ef2529","size":4.5,"opacity":1}},
{"data":{"values":[{"x":-2.25,"x2":2.264,"y":3}]},"mark":{"type":"rule","color":"#555","strokeWidth":0.6,"strokeDash":[3,1.5]},"encoding":{"x2":{"field":"x2"}}},
{"data":{"values":[{"x":-0.42,"y":6.97,"x2":-0.4,"y2":3.1},{"x":-0.04,"y":5.5,"x2":-0.37,"y2":3.3},{"x":-0.6,"y":6.3,"x2":-0.42,"y2":3.3},{"x":-0.7,"y":5.5,"x2":-0.41,"y2":3.3},{"x":-0.6,"y":4.5,"x2":-0.42,"y2":3.5},{"x":-0.55,"y":3.5,"x2":-0.4,"y2":3.2},{"x":-0.75,"y":2.6,"x2":-0.38,"y2":3.05},{"x":0.55,"y":4.6,"x2":0.36,"y2":3.3},{"x":0.42,"y":3.3,"x2":0.36,"y2":3.1}]},"mark":{"type":"rule","color":"#333","strokeWidth":0.5},"encoding":{"x2":{"field":"x2"},"y2":{"field":"y2"}}},
{"data":{"values":[{"x":-0.42,"y":7.3,"t":"PSMC3"},{"x":-1.07,"y":6.53,"t":"TRMT112"},{"x":0.02,"y":6.14,"t":"LTBP1"},{"x":-1.01,"y":5.67,"t":"ACTR5"},{"x":-1.21,"y":4.57,"t":"LINC00663"},{"x":1.04,"y":4.76,"t":"ST8SIA2"},{"x":-0.98,"y":3.54,"t":"TRIM27"},{"x":0.92,"y":3.39,"t":"TAMM41"},{"x":-1.07,"y":2.44,"t":"DTD2"},{"x":1.27,"y":9.56,"t":"GGTLC1"}]},"mark":{"type":"text","align":"center","fontSize":7.6},"encoding":{"text":{"field":"t","type":"nominal"}}},
{"data":{"values":[{"x":2.666,"y":21.6,"t":"LAIV - Day 1"},{"x":0,"y":19.95,"t":"Gene Log₂FC vs IgA"}]},"mark":{"type":"text","align":"center","fontSize":9.8},"encoding":{"text":{"field":"t","type":"nominal"}}},
{"data":{"values":[{"x":8.18,"y":-3.66,"t":"Metacorrelation score"}]},"mark":{"type":"text","align":"center","fontSize":8},"encoding":{"text":{"field":"t","type":"nominal"}}},
{"data":{"values":[{"x":-3.02,"y":8.6,"t":"-Log₁₀ (FDR)"}]},"mark":{"type":"text","align":"center","angle":270,"fontSize":7.8},"encoding":{"text":{"field":"t","type":"nominal"}}},
{"data":{"values":[{"x":-3.25,"y":20.54,"t":"d"}]},"mark":{"type":"text","align":"left","fontSize":12,"fontWeight":"bold","color":"#000"},"encoding":{"text":{"field":"t","type":"nominal"}}}
]},

{"encoding":{"x":{"field":"x","type":"quantitative","scale":{"type":"linear","domain":[-2.237,2.26],"range":[189.3,326]},"axis":{"orient":"bottom","offset":-26.7,"values":[-2,-1,0,1,2]}},"y":{"field":"y","type":"quantitative","scale":{"type":"linear","domain":[-0.71,15.6],"range":[718.3,558]},"axis":{"orient":"left","offset":-189.3,"values":[0,5,10,15]}}},
"layer":[
{"data":{"name":"u"},"mark":{"type":"circle","color":"#000","size":5,"opacity":1}},
{"data":{"values":[{"x":-0.48,"y":8.1},{"x":-0.45,"y":6.2},{"x":-0.5,"y":5.3},{"x":-0.48,"y":4.2},{"x":-0.52,"y":3.6},{"x":-0.38,"y":3.9},{"x":-0.37,"y":3.5},{"x":-0.36,"y":3.2},{"x":-0.4,"y":3.1},{"x":-0.42,"y":3.4}]},"mark":{"type":"circle","color":"#2b4aa5","size":4.5,"opacity":1}},
{"data":{"values":[{"x":0.5,"y":9.8},{"x":0.48,"y":9.3},{"x":0.49,"y":8.5},{"x":0.45,"y":7},{"x":0.43,"y":6.6},{"x":0.44,"y":6.2},{"x":0.42,"y":5.8},{"x":0.43,"y":5.5},{"x":0.41,"y":5.2},{"x":0.4,"y":4.8},{"x":0.42,"y":4.5},{"x":0.39,"y":4.2},{"x":0.38,"y":3.9},{"x":0.37,"y":3.6},{"x":0.36,"y":3.3},{"x":0.35,"y":3.1},{"x":0.4,"y":3.5},{"x":0.45,"y":3.8},{"x":0.38,"y":3.2},{"x":0.5,"y":4.4}]},"mark":{"type":"circle","color":"#ef2529","size":4.5,"opacity":1}},
{"data":{"values":[{"x":-2.237,"x2":2.26,"y":3}]},"mark":{"type":"rule","color":"#555","strokeWidth":0.6,"strokeDash":[3,1.5]},"encoding":{"x2":{"field":"x2"}}},
{"data":{"values":[{"x":-0.18,"y":9.97,"x2":0.34,"y2":3.7},{"x":0.53,"y":6.06,"x2":0.36,"y2":3.7},{"x":-0.3,"y":4.37,"x2":0.31,"y2":3.36},{"x":0.55,"y":3.87,"x2":0.36,"y2":3.36},{"x":0.8,"y":1.73,"x2":0.36,"y2":3},{"x":-1.12,"y":1.35,"x2":-0.48,"y2":3.62}]},"mark":{"type":"rule","color":"#333","strokeWidth":0.5},"encoding":{"x2":{"field":"x2"},"y2":{"field":"y2"}}},
{"data":{"values":[{"x":-0.49,"y":11.8,"t":"Positive regulation of"},{"x":-0.49,"y":10.8,"t":"monooxygenase activity"},{"x":1.3,"y":7.5,"t":"Regulation of protein"},{"x":1.3,"y":6.47,"t":"kinase B signaling"},{"x":-1.15,"y":6.95,"t":"Regulation of"},{"x":-1.15,"y":5.96,"t":"glutamate"},{"x":-1.15,"y":4.95,"t":"receptor signaling"},{"x":1.57,"y":4.44,"t":"Positive regulation"},{"x":1.57,"y":3.46,"t":"of phagocytosis"},{"x":1.27,"y":1.38,"t":"Inflammatory"},{"x":1.27,"y":0.37,"t":"response"},{"x":-1.12,"y":0.84,"t":"Acyl−CoA"},{"x":-1.12,"y":-0.17,"t":"metabolic process"}]},"mark":{"type":"text","align":"center","fontSize":8},"encoding":{"text":{"field":"t","type":"nominal"}}},
{"data":{"values":[{"x":0,"y":17.2,"t":"NES vs IgA"}]},"mark":{"type":"text","align":"center","fontSize":9.8},"encoding":{"text":{"field":"t","type":"nominal"}}}
]},

{"encoding":{"x":{"field":"x","type":"quantitative","scale":{"type":"linear","domain":[-2.337,2.255],"range":[359,494]},"axis":{"orient":"bottom","offset":-26.7,"values":[-2,-1,0,1,2]}},"y":{"field":"y","type":"quantitative","scale":{"type":"linear","domain":[-0.72,15.8],"range":[718.3,558]},"axis":{"orient":"left","offset":-359,"values":[0,5,10,15]}}},
"layer":[
{"data":{"name":"u"},"mark":{"type":"circle","color":"#000","size":12,"opacity":1}},
{"data":{"values":[{"x":-0.58,"y":14},{"x":-0.53,"y":12.5},{"x":-0.53,"y":11.1},{"x":-0.5,"y":8.8},{"x":-0.5,"y":8.5},{"x":-0.48,"y":8.2},{"x":-0.49,"y":7.9},{"x":-0.47,"y":7.4},{"x":-0.48,"y":7},{"x":-0.46,"y":6.6},{"x":-0.45,"y":6.2},{"x":-0.46,"y":6},{"x":-0.46,"y":5.6},{"x":-0.43,"y":5.3},{"x":-0.45,"y":5},{"x":-0.42,"y":4.8},{"x":-0.44,"y":4.5},{"x":-0.41,"y":4.2},{"x":-0.43,"y":3.9},{"x":-0.4,"y":3.7},{"x":-0.38,"y":3.4},{"x":-0.4,"y":3.2},{"x":-0.37,"y":3.1},{"x":-0.36,"y":3.6},{"x":-0.42,"y":3.5},{"x":-0.39,"y":4},{"x":-0.41,"y":4.7}]},"mark":{"type":"circle","color":"#2b4aa5","size":4.5,"opacity":1}},
{"data":{"values":[{"x":0.52,"y":8.5},{"x":0.5,"y":8.1},{"x":0.47,"y":6.4},{"x":0.46,"y":6.1},{"x":0.44,"y":5.7},{"x":0.46,"y":5.3},{"x":0.42,"y":5.1},{"x":0.4,"y":4.8},{"x":0.43,"y":4.5},{"x":0.41,"y":4.2},{"x":0.39,"y":3.9},{"x":0.38,"y":3.6},{"x":0.37,"y":3.3},{"x":0.35,"y":3.1},{"x":0.45,"y":3.9},{"x":0.48,"y":3.5},{"x":0.42,"y":3.4},{"x":0.5,"y":3.9},{"x":0.43,"y":3.1}]},"mark":{"type":"circle","color":"#ef2529","size":4.5,"opacity":1}},
{"data":{"values":[{"x":-2.337,"x2":2.255,"y":3}]},"mark":{"type":"rule","color":"#555","strokeWidth":0.6,"strokeDash":[3,1.5]},"encoding":{"x2":{"field":"x2"}}},
{"data":{"values":[{"x":-0.83,"y":4.95,"x2":-0.49,"y2":4.43},{"x":0.76,"y":6.2,"x2":0.38,"y2":3.4},{"x":0.76,"y":5.1,"x2":0.38,"y2":3.35},{"x":0.7,"y":4.08,"x2":0.42,"y2":3.3},{"x":0.87,"y":3.46,"x2":0.38,"y2":3.2}]},"mark":{"type":"rule","color":"#333","strokeWidth":0.5},"encoding":{"x2":{"field":"x2"},"y2":{"field":"y2"}}},
{"data":{"values":[{"x":-1.28,"y":5.19,"t":"TACC2"},{"x":1.18,"y":6.4,"t":"FUOM"},{"x":1.43,"y":5.22,"t":"TMEM38B"},{"x":1.38,"y":4.26,"t":"CYB561A3"},{"x":1.27,"y":3.54,"t":"HAMP"}]},"mark":{"type":"text","align":"center","fontSize":7.6},"encoding":{"text":{"field":"t","type":"nominal"}}},
{"data":{"values":[{"x":2.7,"y":18.9,"t":"LAIV - Day 7"},{"x":-0.06,"y":17.45,"t":"Gene Log₂FC vs IgA"}]},"mark":{"type":"text","align":"center","fontSize":9.8},"encoding":{"text":{"field":"t","type":"nominal"}}}
]},

{"encoding":{"x":{"field":"x","type":"quantitative","scale":{"type":"linear","domain":[-2.19,2.25],"range":[516.7,655.7]},"axis":{"orient":"bottom","offset":-26.7,"values":[-2,-1,0,1,2]}},"y":{"field":"y","type":"quantitative","scale":{"type":"linear","domain":[-0.54,11.9],"range":[718.3,558]},"axis":{"orient":"left","offset":-516.7,"values":[0,3,6,9]}}},
"layer":[
{"data":{"name":"u"},"mark":{"type":"circle","color":"#000","size":5,"opacity":1}},
{"data":{"values":[{"x":-0.43,"y":5.5},{"x":-0.42,"y":5},{"x":-0.38,"y":3.6},{"x":-0.45,"y":3.2},{"x":-0.36,"y":3}]},"mark":{"type":"circle","color":"#2b4aa5","size":4.5,"opacity":1}},
{"data":{"values":[{"x":0.49,"y":6.5},{"x":0.44,"y":6.3},{"x":0.48,"y":5.8},{"x":0.42,"y":5.6},{"x":0.4,"y":5.1},{"x":0.39,"y":5.2},{"x":0.4,"y":4.8},{"x":0.38,"y":4.5},{"x":0.37,"y":4.1},{"x":0.36,"y":3.8},{"x":0.38,"y":3.5},{"x":0.4,"y":3.3},{"x":0.36,"y":3.1},{"x":0.45,"y":3.2},{"x":0.42,"y":3.6},{"x":0.35,"y":3.3}]},"mark":{"type":"circle","color":"#ef2529","size":4.5,"opacity":1}},
{"data":{"values":[{"x":-2.19,"x2":2.25,"y":3}]},"mark":{"type":"rule","color":"#555","strokeWidth":0.6,"strokeDash":[3,1.5]},"encoding":{"x2":{"field":"x2"}}},
{"data":{"values":[{"x":-0.59,"y":10.53,"x2":0.42,"y2":5.67},{"x":0.42,"y":8.9,"x2":0.47,"y2":6.45},{"x":-0.33,"y":6.57,"x2":0.36,"y2":3.85}]},"mark":{"type":"rule","color":"#333","strokeWidth":0.5},"encoding":{"x2":{"field":"x2"},"y2":{"field":"y2"}}},
{"data":{"values":[{"x":-0.58,"y":11.75,"t":"Positive regulation of nitric"},{"x":-0.58,"y":10.97,"t":"oxide metabolic process"},{"x":1.45,"y":9.94,"t":"Positive regulation of"},{"x":1.45,"y":9.18,"t":"B cell activation"},{"x":-1.13,"y":7.58,"t":"Cellular response"},{"x":-1.09,"y":6.8,"t":"to type I interferon"}]},"mark":{"type":"text","align":"center","fontSize":8},"encoding":{"text":{"field":"t","type":"nominal"}}},
{"data":{"values":[{"x":0.02,"y":13.14,"t":"NES vs IgA"}]},"mark":{"type":"text","align":"center","fontSize":9.8},"encoding":{"text":{"field":"t","type":"nominal"}}}
]}
],
"resolve":{"scale":{"x":"independent","y":"independent","color":"independent","size":"independent","theta":"independent","radius":"independent"},"axis":{"x":"independent","y":"independent"}}
}
